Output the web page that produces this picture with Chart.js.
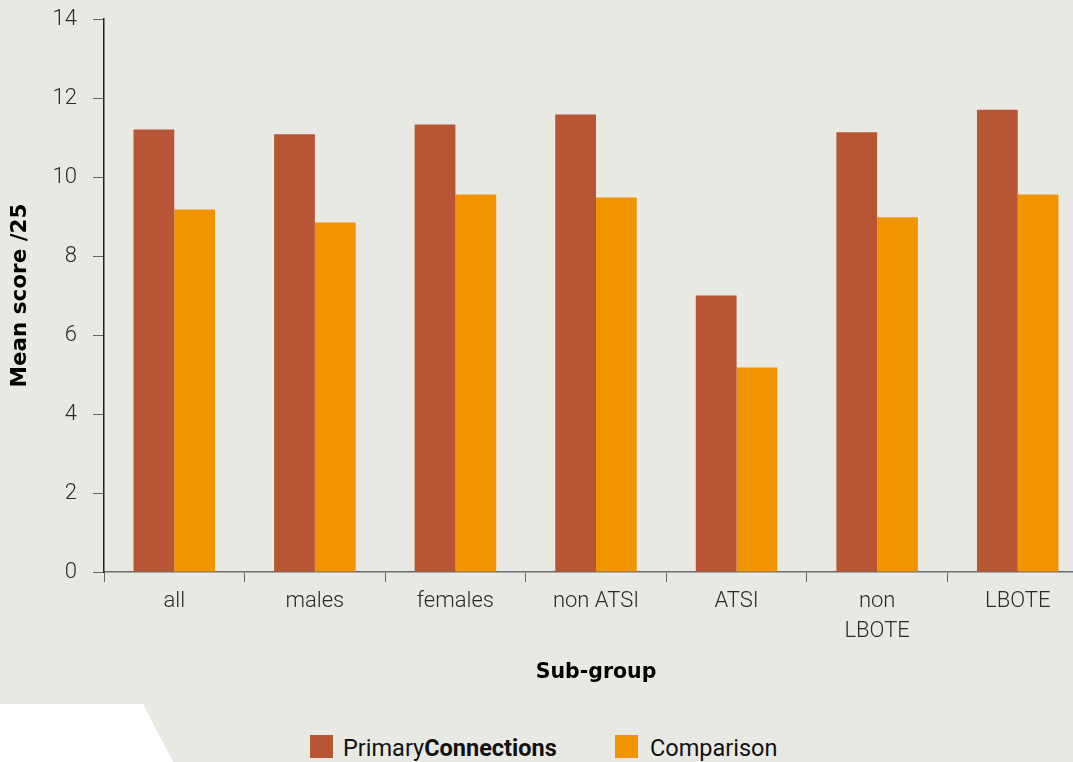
<!DOCTYPE html>
<html>
<head>
<meta charset="utf-8">
<script src="https://cdn.jsdelivr.net/npm/chart.js@4/dist/chart.umd.min.js"></script>
<style>
  html, body { margin: 0; padding: 0; width: 1073px; height: 762px; overflow: hidden; background: #e9e9e4; }
  #wrap { position: relative; width: 1073px; height: 762px; overflow: hidden; }
  #c { position: absolute; left: 0; top: 0; }
  #corner { position: absolute; left: 0; top: 0; width: 1073px; height: 762px; background: #ffffff;
            clip-path: polygon(0px 704px, 143px 704px, 173px 762px, 0px 762px); }
  .leg { position: absolute; top: 734px; font-family: Roboto, "Noto Sans", sans-serif; font-size: 23.5px; color: #111; line-height: 28px; white-space: nowrap; }
  .sw { position: absolute; width: 23px; height: 23px; top: 735px; }
</style>
</head>
<body>
<div id="wrap">
  <div id="corner"></div>
  <canvas id="c" width="1088" height="700" style="width:1088px;height:700px;"></canvas>
  <div class="sw" style="left:310px;background:#b85535;"></div>
  <div class="leg" style="left:343px;">Primary<b style="font-weight:700;">Connections</b></div>
  <div class="sw" style="left:615px;background:#f29400;"></div>
  <div class="leg" style="left:650px;">Comparison</div>
</div>
<script>
const categories = ["all", "males", "females", "non ATSI", "ATSI", ["non", "LBOTE"], "LBOTE"];
const primaryConnections = [11.2, 11.08, 11.33, 11.58, 7.0, 11.13, 11.7];
const comparison = [9.18, 8.85, 9.56, 9.48, 5.18, 8.98, 9.56];
const yTicks = [0, 2, 4, 6, 8, 10, 12, 14];

const tickFont = { family: "Roboto, 'Noto Sans', sans-serif", size: 22, weight: 300, lineHeight: 1.35 };
const xTitleFont = { family: "'DejaVu Sans', 'Liberation Sans', sans-serif", size: 20.5, weight: 'bold', lineHeight: 1.2 };
const yTitleFont = { family: "'DejaVu Sans', 'Liberation Sans', sans-serif", size: 21.5, weight: 'bold', lineHeight: 1.2 };

new Chart(document.getElementById('c'), {
  type: 'bar',
  data: {
    labels: categories,
    datasets: [
      { label: 'PrimaryConnections', data: primaryConnections, backgroundColor: '#b85535', borderWidth: 0 },
      { label: 'Comparison', data: comparison, backgroundColor: '#f29400', borderWidth: 0 }
    ]
  },
  options: {
    responsive: false,
    animation: false,
    devicePixelRatio: 1,
    layout: { padding: { top: 19, left: 0, right: 0, bottom: 0 } },
    plugins: { legend: { display: false }, tooltip: { enabled: false } },
    datasets: { bar: { categoryPercentage: 0.58, barPercentage: 1.0 } },
    scales: {
      x: {
        grid: { display: true, drawOnChartArea: false, drawTicks: true, tickLength: 10, color: '#666', offset: true },
        border: { display: true, color: '#6a6a6a', width: 1.5 },
        ticks: { font: tickFont, color: '#2a2a2a', padding: 5, maxRotation: 0, autoSkip: false },
        title: { display: true, text: 'Sub-group', font: xTitleFont, color: '#000', padding: { top: 0, bottom: 15 } },
        afterFit: (s) => { s.height = 128; s.paddingLeft = 0; s.paddingRight = 0; }
      },
      y: {
        min: 0, max: 14,
        afterBuildTicks: (s) => { s.ticks = yTicks.map(v => ({ value: v })); },
        grid: { display: true, drawOnChartArea: false, drawTicks: true, tickLength: 11, color: '#666' },
        border: { display: true, color: '#222', width: 1.5 },
        ticks: { font: tickFont, color: '#2a2a2a', padding: 16 },
        title: { display: true, text: 'Mean score /25', font: yTitleFont, color: '#000', padding: { top: 8, bottom: 0 } },
        afterFit: (s) => { s.width = 104; s.paddingTop = 0; s.paddingBottom = 0; }
      }
    }
  }
});
</script>
</body>
</html>
